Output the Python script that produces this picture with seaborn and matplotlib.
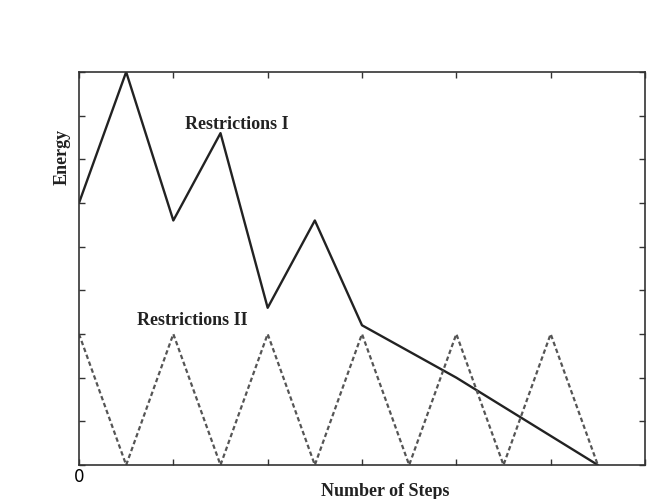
import numpy as np
import pandas as pd
import matplotlib
matplotlib.use("Agg")
import matplotlib.pyplot as plt
import seaborn as sns

# step index (half-ticks) and energy levels
steps_I = [0, 1, 2, 3, 4, 5, 6, 8, 11]
energy_I = [6.0, 9.0, 5.6, 7.6, 3.6, 5.6, 3.2, 2.0, 0.0]
steps_II = [0, 1, 2, 3, 4, 5, 6, 7, 8, 9, 10, 11]
energy_II = [3, 0, 3, 0, 3, 0, 3, 0, 3, 0, 3, 0]

sns.set_theme(style="white")
plt.rcParams["font.family"] = ["Liberation Serif", "DejaVu Serif"]

df1 = pd.DataFrame({"step": steps_I, "energy": energy_I})
df2 = pd.DataFrame({"step": steps_II, "energy": energy_II})

fig = plt.figure(figsize=(6.59, 4.99), dpi=100)
ax = fig.add_axes([79 / 659, 1 - 465 / 499, (645 - 79) / 659, (465 - 72) / 499])

sns.lineplot(data=df1, x="step", y="energy", ax=ax, color="#222222", lw=1.7)
sns.lineplot(data=df2, x="step", y="energy", ax=ax, color="#555555", lw=1.6,
             linestyle=(0, (2, 1.3)))

ax.set_xlim(0, 12)
ax.set_ylim(0, 9)
ax.set_xticks(np.arange(0, 13, 2))
ax.set_yticks(np.arange(0, 10, 1))
ax.set_xticklabels(["0"] + [""] * 6, fontsize=12, fontfamily="DejaVu Sans")
ax.set_yticklabels([])
ax.tick_params(direction="in", length=4, width=1, top=True, right=True,
               bottom=True, left=True, pad=2, colors="#333333")
ax.tick_params(axis="x", labelcolor="black")
for s in ax.spines.values():
    s.set_color("#333333")
    s.set_linewidth(1.2)

ax.set_xlabel("Number of Steps", fontsize=13, fontweight="bold", color="#222222")
ax.set_ylabel("Energy", fontsize=13, fontweight="bold", color="#222222")
ax.xaxis.set_label_coords((385 - 79) / (645 - 79), -0.045)
ax.yaxis.set_label_coords(-0.015, (465 - 157) / (465 - 72))

ax.text(2.25, 7.7, "Restrictions I", fontsize=13, fontweight="bold", color="#222222")
ax.text(1.22, 3.2, "Restrictions II", fontsize=13, fontweight="bold", color="#222222")

fig.savefig("out.png", dpi=100)
